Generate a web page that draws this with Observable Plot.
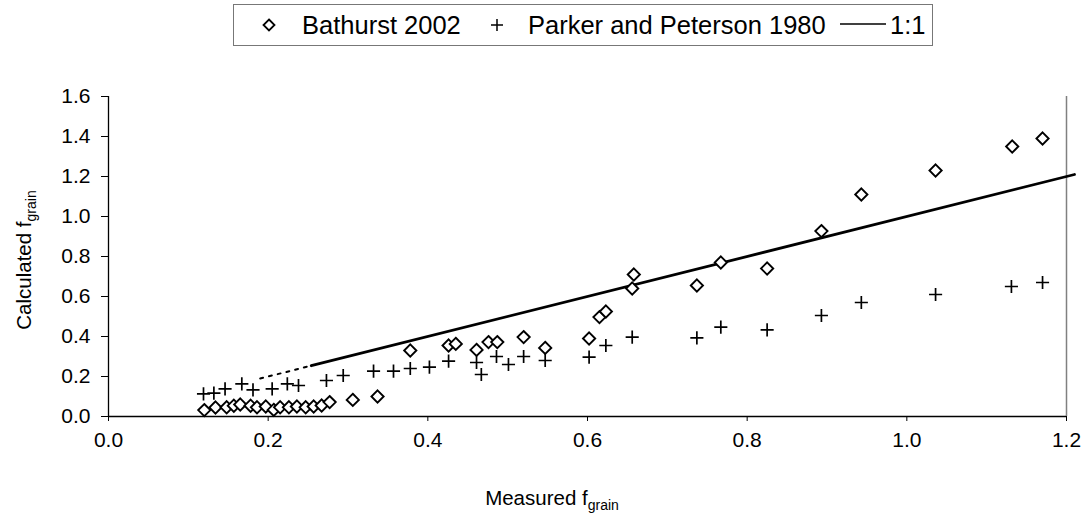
<!DOCTYPE html>
<html>
<head>
<meta charset="utf-8">
<script src="https://cdn.jsdelivr.net/npm/d3@7"></script>
<script src="https://cdn.jsdelivr.net/npm/@observablehq/plot@0.6"></script>
<style>
  body { margin: 0; background: #fff; font-family: "Liberation Sans", Arial, sans-serif; }
  #wrap { position: relative; width: 1091px; height: 516px; }
  #legend { position: absolute; left: 233px; top: 4px; width: 700px; height: 42px;
            border: 1px solid #777; box-sizing: border-box; background: #fff; }
  #legend .item { position: absolute; top: 0; height: 40px; line-height: 40px;
                  font-size: 25.5px; color: #000; white-space: nowrap; }
  #legend svg { position: absolute; }
  #chart { position: absolute; left: 0; top: 50px; }
</style>
</head>
<body>
<div id="wrap">
  <div id="legend">
    <svg style="left:28px;top:13px" width="14" height="14">
      <path d="M7,1.5L12.5,7L7,12.5L1.5,7Z" fill="#fff" stroke="#000" stroke-width="1.8"/>
    </svg>
    <span class="item" style="left:68px">Bathurst 2002</span>
    <svg style="left:256px;top:13px" width="14" height="14">
      <path d="M1,7H13M7,1V13" stroke="#000" stroke-width="1.5"/>
    </svg>
    <span class="item" style="left:294px">Parker and Peterson 1980</span>
    <svg style="left:606px;top:12px" width="46" height="14">
      <path d="M0,7H46" stroke="#000" stroke-width="1.5"/>
    </svg>
    <span class="item" style="left:656px">1:1</span>
  </div>
  <div id="chart"></div>
</div>
<script>
// Measured vs calculated grain friction factor
const bathurstX = [0.120, 0.134, 0.148, 0.157, 0.165, 0.178, 0.186, 0.197, 0.207, 0.215,
                   0.226, 0.236, 0.247, 0.257, 0.267, 0.277, 0.306, 0.337, 0.378, 0.426,
                   0.435, 0.461, 0.476, 0.487, 0.520, 0.547, 0.602, 0.615, 0.623, 0.656,
                   0.658, 0.737, 0.767, 0.825, 0.893, 0.943, 1.036, 1.132, 1.170];
const bathurstY = [0.032, 0.045, 0.046, 0.054, 0.060, 0.054, 0.046, 0.050, 0.033, 0.046,
                   0.046, 0.050, 0.046, 0.050, 0.055, 0.072, 0.083, 0.100, 0.330, 0.355,
                   0.363, 0.333, 0.372, 0.372, 0.397, 0.343, 0.390, 0.497, 0.525, 0.640,
                   0.710, 0.655, 0.770, 0.740, 0.927, 1.110, 1.230, 1.350, 1.390];

const parkerX = [0.119, 0.132, 0.146, 0.167, 0.181, 0.205, 0.224, 0.238, 0.273, 0.294,
                 0.332, 0.357, 0.378, 0.402, 0.426, 0.461, 0.467, 0.486, 0.501, 0.520,
                 0.547, 0.602, 0.623, 0.656, 0.737, 0.767, 0.825, 0.893, 0.943, 1.036,
                 1.131, 1.170];
const parkerY = [0.113, 0.117, 0.138, 0.163, 0.133, 0.138, 0.163, 0.155, 0.180, 0.205,
                 0.227, 0.227, 0.240, 0.247, 0.277, 0.270, 0.210, 0.300, 0.260, 0.300,
                 0.280, 0.297, 0.355, 0.397, 0.393, 0.447, 0.433, 0.505, 0.570, 0.610,
                 0.650, 0.670];

// 1:1 reference line (the low end is partly hidden behind the point cloud)
const lineX = [0.19, 0.254, 1.21];

const xTicks = [0, 0.2, 0.4, 0.6, 0.8, 1.0, 1.2];
const yTicks = [0, 0.2, 0.4, 0.6, 0.8, 1.0, 1.2, 1.4, 1.6];

const bathurst = bathurstX.map((x, i) => ({x, y: bathurstY[i]}));
const parker = parkerX.map((x, i) => ({x, y: parkerY[i]}));
const oneToOne = lineX.map(v => ({x: v, y: v}));

const fmt = d3.format(".1f");

const chart = Plot.plot({
  width: 1091,
  height: 466,
  marginLeft: 108,
  marginRight: 25,
  marginTop: 46,
  marginBottom: 100,
  style: {fontFamily: "'Liberation Sans', Arial, sans-serif", fontSize: "21px", color: "#000", background: "#fff"},
  x: {domain: [0, 1.2]},
  y: {domain: [0, 1.6]},
  marks: [
    Plot.ruleX([1.2], {y1: 0, y2: 1.6, stroke: "#808080", strokeWidth: 1.5}),
    Plot.axisX({ticks: xTicks, tickFormat: fmt, tickSize: 5, tickPadding: 11, label: null, stroke: "#000"}),
    Plot.axisY({ticks: yTicks, tickFormat: fmt, tickSize: 7, tickPadding: 11, label: null, stroke: "#000"}),
    Plot.ruleY([0], {stroke: "#000", strokeWidth: 1.3}),
    Plot.ruleX([0], {stroke: "#000", strokeWidth: 1.3}),
    Plot.line(oneToOne.slice(0, 2), {x: "x", y: "y", stroke: "#000", strokeWidth: 2, strokeDasharray: "3,6"}),
    Plot.line(oneToOne.slice(1), {x: "x", y: "y", stroke: "#000", strokeWidth: 2.8}),
    Plot.dot(bathurst, {x: "x", y: "y", symbol: "diamond2", r: 5.5, fill: "#fff", stroke: "#000", strokeWidth: 1.9}),
    Plot.dot(parker, {x: "x", y: "y", symbol: "plus", r: 4.3, stroke: "#000", strokeWidth: 1.7})
  ]
});

// Axis titles with subscripts
const svg = d3.select(chart);
const xt = svg.append("text")
  .attr("x", 552).attr("y", 455)
  .attr("text-anchor", "middle")
  .attr("font-size", 20.5).attr("fill", "#000");
xt.append("tspan").text("Measured f");
xt.append("tspan").attr("font-size", 14).attr("dy", 5).text("grain");

const yt = svg.append("text")
  .attr("transform", "translate(31,210) rotate(-90)")
  .attr("text-anchor", "middle")
  .attr("font-size", 20.5).attr("fill", "#000");
yt.append("tspan").text("Calculated f");
yt.append("tspan").attr("font-size", 14).attr("dy", 5).text("grain");

document.getElementById("chart").appendChild(chart);
</script>
</body>
</html>
